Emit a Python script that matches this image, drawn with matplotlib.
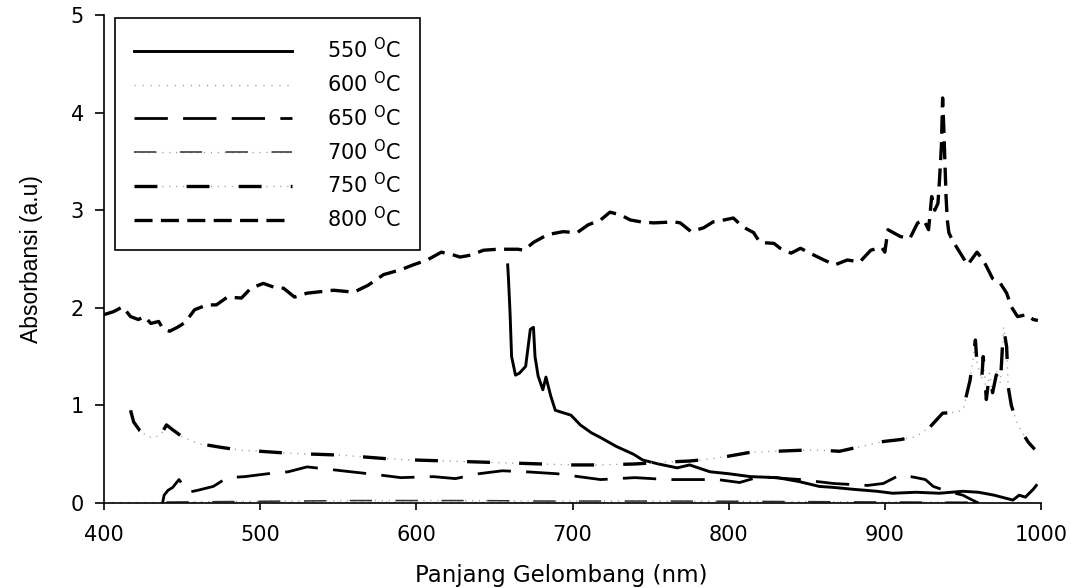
import matplotlib
matplotlib.use("Agg")
import matplotlib.pyplot as plt
from matplotlib.legend_handler import HandlerTuple

plt.rcParams['font.family'] = ['DejaVu Sans']
plt.rcParams['lines.scale_dashes'] = False
plt.rcParams['lines.dash_capstyle'] = 'butt'

# panjang gelombang (nm) dan absorbansi tiap suhu
x550 = [658.5, 659, 660, 661, 663.5, 666, 670, 673, 675, 676, 678, 681, 683, 686, 689,
        695, 699, 705, 712, 718, 728, 739, 745, 755, 767, 775, 788, 800, 814, 831, 845,
        858, 867, 880, 895, 905, 920, 935, 950, 960, 970, 982, 986, 990, 995, 997]
y550 = [2.44, 2.30, 1.95, 1.50, 1.31, 1.33, 1.40, 1.78, 1.80, 1.50, 1.30, 1.16, 1.29, 1.10, 0.95,
        0.92, 0.90, 0.80, 0.72, 0.67, 0.58, 0.50, 0.44, 0.40, 0.36, 0.39, 0.32, 0.30, 0.27, 0.26, 0.22,
        0.17, 0.16, 0.14, 0.12, 0.10, 0.11, 0.10, 0.12, 0.11, 0.08, 0.03, 0.08, 0.06, 0.14, 0.18]

x600 = [400, 440, 480, 520, 560, 600, 640, 680, 720, 760, 800, 840, 880, 920, 960]
y600 = [0.005, 0.005, 0.006, 0.006, 0.007, 0.006, 0.006, 0.006, 0.005, 0.005, 0.005, 0.004, 0.004, 0.004, 0.003]

x650 = [437.5, 438.5, 441, 444, 448, 454, 460, 470, 479, 490, 505, 518, 530, 547, 558, 575,
        590, 611, 625, 640, 655, 670, 690, 718, 740, 761, 793, 807, 820, 846, 867, 889, 899,
        910, 920, 926, 931, 940, 950, 956, 960]
y650 = [0.0, 0.08, 0.13, 0.16, 0.24, 0.11, 0.13, 0.17, 0.26, 0.27, 0.30, 0.32, 0.37, 0.34, 0.32, 0.29,
        0.26, 0.27, 0.25, 0.30, 0.33, 0.32, 0.30, 0.24, 0.26, 0.24, 0.24, 0.21, 0.27, 0.24, 0.20, 0.18, 0.20,
        0.29, 0.26, 0.24, 0.17, 0.12, 0.08, 0.03, 0.0]

x700 = [440, 480, 520, 560, 600, 640, 680, 720, 760, 800, 840, 880, 920, 960]
y700 = [0.01, 0.015, 0.02, 0.025, 0.025, 0.025, 0.02, 0.02, 0.02, 0.018, 0.015, 0.012, 0.01, 0.008]

x750 = [417, 419, 423, 428, 432, 436.5, 440, 444, 450, 460, 475, 488, 500, 518, 535, 552, 568,
        584, 600, 620, 640, 660, 680, 700, 718, 740, 761, 775, 788, 800, 814, 830, 846, 860,
        871, 885, 899, 910, 920, 929, 937, 945, 950, 954.6, 958, 959, 962, 963, 965, 967, 969,
        972, 974, 976, 978, 979, 981, 984, 988, 992, 996]
y750 = [0.95, 0.83, 0.74, 0.68, 0.67, 0.70, 0.80, 0.75, 0.68, 0.61, 0.57, 0.54, 0.53, 0.51, 0.50, 0.49, 0.47,
        0.45, 0.44, 0.43, 0.42, 0.41, 0.40, 0.39, 0.39, 0.40, 0.42, 0.43, 0.45, 0.48, 0.52, 0.53, 0.54, 0.54,
        0.53, 0.58, 0.63, 0.65, 0.68, 0.78, 0.92, 0.93, 0.95, 1.26, 1.67, 1.43, 1.26, 1.50, 1.06, 1.33, 1.13,
        1.36, 1.23, 1.80, 1.60, 1.19, 1.00, 0.85, 0.72, 0.62, 0.55]

x800 = [400, 406, 412, 417, 422, 426, 430, 435, 438, 442, 447, 452, 458, 466, 472, 479, 488, 494,
        502, 509, 515, 522, 530, 547, 560, 569, 579, 590, 598, 607, 616, 624, 628, 635, 643, 652,
        665, 669, 675, 684, 694, 703, 710, 718, 724, 731, 737, 744, 752, 765, 769, 776, 784, 790,
        797, 803, 809, 816, 820, 829, 833, 840, 846, 852, 861, 868, 876, 884, 891, 898, 900, 902,
        910, 916, 921, 925, 928, 930, 932, 934, 935, 936.2, 937, 937.8, 938.5, 939.2, 940, 941,
        943, 946, 953, 959, 963, 969, 974, 978, 981, 985, 991, 995, 998]
y800 = [1.93, 1.96, 2.01, 1.91, 1.88, 1.91, 1.84, 1.86, 1.78, 1.76, 1.80, 1.85, 1.98, 2.03, 2.03, 2.11, 2.10, 2.20,
        2.25, 2.21, 2.20, 2.11, 2.15, 2.18, 2.16, 2.23, 2.34, 2.39, 2.44, 2.49, 2.57, 2.54, 2.52, 2.54, 2.59, 2.60,
        2.60, 2.59, 2.67, 2.75, 2.78, 2.77, 2.85, 2.90, 2.98, 2.95, 2.90, 2.88, 2.87, 2.88, 2.87, 2.78, 2.82, 2.88,
        2.90, 2.92, 2.83, 2.77, 2.67, 2.66, 2.61, 2.56, 2.61, 2.56, 2.49, 2.44, 2.49, 2.47, 2.59, 2.62, 2.57, 2.80,
        2.73, 2.71, 2.87, 2.90, 2.80, 3.14, 3.00, 3.07, 3.31, 3.65, 4.15, 3.82, 3.48, 3.14, 2.90, 2.77,
        2.70, 2.62, 2.44, 2.57, 2.49, 2.30, 2.25, 2.15, 2.01, 1.91, 1.93, 1.88, 1.87]

labels = ['550', '600', '650', '700', '750', '800']
gray = '#9a9a9a'

fig = plt.figure(figsize=(10.71, 5.88), dpi=100)
ax = fig.add_axes([104 / 1071, 1 - 503 / 588, 937 / 1071, 488 / 588])

l550, = ax.plot(x550, y550, color='black', lw=2.1, solid_joinstyle='round')
l600, = ax.plot(x600, y600, color=gray, lw=1.0, dashes=(0.8, 5))
l650, = ax.plot(x650, y650, color='black', lw=2.0, dashes=(24, 11))
g700, = ax.plot(x700, y700, color=gray, lw=1.0, dashes=(0.8, 4.2))
l700, = ax.plot(x700, y700, color='#303030', lw=1.1, dashes=(16, 17))
g750, = ax.plot(x750, y750, color=gray, lw=1.0, dashes=(0.8, 4.2))
l750, = ax.plot(x750, y750, color='black', lw=2.4, dashes=(16.5, 21))
l800, = ax.plot(x800, y800, color='black', lw=2.4, dashes=(13, 6))

ax.set_xlim(400, 1000)
ax.set_ylim(0, 5)
ax.set_xticks(range(400, 1001, 100))
ax.set_yticks(range(0, 6))
for s in ['top', 'right']:
    ax.spines[s].set_visible(False)
for s in ['left', 'bottom']:
    ax.spines[s].set_linewidth(1.2)
ax.tick_params(axis='y', direction='out', length=6.5, width=1.2, pad=8, labelsize=15)
ax.tick_params(axis='x', direction='out', length=5, width=1.2, pad=11, labelsize=15)

ax.set_xlabel('Panjang Gelombang (nm)', fontsize=16.5)
ax.xaxis.set_label_coords((561 - 104) / 937, -0.124)
ax.set_ylabel('Absorbansi (a.u)', fontsize=16.5, family=['Liberation Sans'])
ax.yaxis.set_label_coords(-0.065, 0.5)

handles = [l550, l600, l650, (g700, l700), (g750, l750), l800]
texts = [t + r' $^{\mathregular{O}}$C' for t in labels]
leg = ax.legend(handles, texts, loc='upper left', bbox_to_anchor=(0.0117, 0.994),
                borderaxespad=0, fontsize=15, handlelength=7.6, handletextpad=1.7,
                labelspacing=0.42, borderpad=0.9, fancybox=False, framealpha=1,
                edgecolor='black', handler_map={tuple: HandlerTuple(ndivide=1)})
leg.get_frame().set_linewidth(1.2)

fig.savefig('out.png', dpi=100)
